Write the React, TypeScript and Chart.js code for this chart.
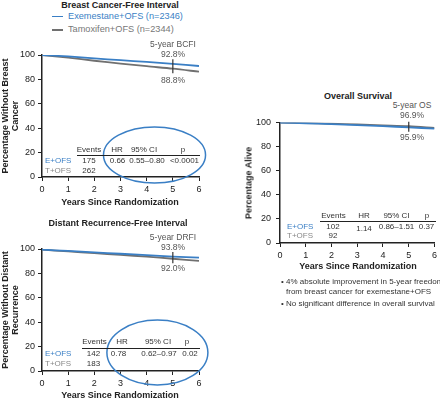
import React, { useEffect, useRef } from "react";
import { Chart, registerables } from "chart.js";
Chart.register(...registerables);

// ---------- data ----------
const years = [0, 1, 2, 3, 4, 5, 6];
const xTicks = [0, 1, 2, 3, 4, 5, 6];
const yTicks = [0, 20, 40, 60, 80, 100];
const groups = ["E+OFS", "T+OFS"];
const legendLabels = ["Exemestane+OFS (n=2346)", "Tamoxifen+OFS (n=2344)"];
const tableHeader = ["Events", "HR", "95% CI", "p"];

const bcfiExe = [100, 98.8, 97.2, 95.8, 94.3, 92.8, 91.0];
const bcfiTam = [100, 97.8, 95.3, 93.0, 90.8, 88.8, 86.3];
const bcfiFive = [92.8, 88.8];
const bcfiEvents = [175, 262];
const bcfiStats = ["0.66", "0.55–0.80", "<0.0001"];

const drfiExe = [99.5, 98.4, 97.2, 96.1, 95.0, 93.8, 92.9];
const drfiTam = [99.5, 98.0, 96.6, 95.2, 93.7, 92.0, 90.2];
const drfiFive = [93.8, 92.0];
const drfiEvents = [142, 183];
const drfiStats = ["0.78", "0.62–0.97", "0.02"];

const osExe = [99.8, 99.3, 98.6, 97.8, 96.9, 95.9, 94.8];
const osTam = [99.8, 99.4, 98.9, 98.3, 97.6, 96.9, 95.4];
const osFive = [96.9, 95.9];
const osEvents = [102, 92];
const osStats = ["1.14", "0.86–1.51", "0.37"];

const bullets = [
  "4% absolute improvement in 5-year freedom",
  "from breast cancer for exemestane+OFS",
  "No significant difference in overall survival",
];

// ---------- styles ----------
const FONT = "'Liberation Sans', Arial, Helvetica, sans-serif";
const BLUE = "#3a7fc5";
const GRAY = "#707070";
const AXIS = "#222";
const TXT = "#333";
const NOTE = "#555";

type Ell = { cx: number; cy: number; rx: number; ry: number } | null;

function annotPlugin(fiveVals: number[], ell: Ell) {
  return {
    id: "annot",
    afterDatasetsDraw(chart: any) {
      const { ctx, scales } = chart;
      const x = scales.x, y = scales.y;
      ctx.save();
      const px = x.getPixelForValue(5);
      const top = y.getPixelForValue(Math.max(...fiveVals)) - 4.5;
      const bot = y.getPixelForValue(Math.min(...fiveVals)) + 4.5;
      ctx.strokeStyle = "#333";
      ctx.lineWidth = 1.2;
      ctx.beginPath();
      ctx.moveTo(px, top);
      ctx.lineTo(px, bot);
      ctx.stroke();
      if (ell) {
        const cx = x.getPixelForValue(ell.cx);
        const cy = y.getPixelForValue(ell.cy);
        const rx = Math.abs(x.getPixelForValue(ell.cx + ell.rx) - cx);
        const ry = Math.abs(y.getPixelForValue(ell.cy + ell.ry) - cy);
        ctx.beginPath();
        ctx.ellipse(cx, cy, rx, ry, 0, 0, Math.PI * 2);
        ctx.strokeStyle = BLUE;
        ctx.lineWidth = 1.5;
        ctx.stroke();
      }
      ctx.restore();
    },
  };
}

type PanelProps = {
  left: number; top: number; width: number; height: number;
  exe: number[]; tam: number[]; five: number[]; ell: Ell;
  yWidth: number; xHeight: number; padTop: number; padRight: number; yPad: number;
};

function KMChart(p: PanelProps) {
  const ref = useRef<HTMLCanvasElement | null>(null);
  useEffect(() => {
    if (!ref.current) return;
    const tickFont = { family: FONT, size: 9 };
    const chart = new Chart(ref.current, {
      type: "line",
      data: {
        datasets: [
          { label: groups[0], data: years.map((t, i) => ({ x: t, y: p.exe[i] })), borderColor: BLUE, borderWidth: 1.8, pointRadius: 0, tension: 0.3 },
          { label: groups[1], data: years.map((t, i) => ({ x: t, y: p.tam[i] })), borderColor: GRAY, borderWidth: 1.8, pointRadius: 0, tension: 0.3 },
        ],
      },
      options: {
        animation: false,
        responsive: false,
        maintainAspectRatio: false,
        layout: { padding: { top: p.padTop, right: p.padRight, left: 0, bottom: 0 } },
        plugins: { legend: { display: false }, tooltip: { enabled: false } },
        scales: {
          x: {
            type: "linear", min: 0, max: 6,
            afterBuildTicks: (s: any) => { s.ticks = xTicks.map((v) => ({ value: v })); },
            afterFit: (s: any) => { s.height = p.xHeight; },
            ticks: { font: tickFont, color: AXIS, padding: 3, maxRotation: 0 },
            grid: { display: true, drawOnChartArea: false, drawTicks: true, tickLength: 4, color: AXIS, lineWidth: 1 },
            border: { display: true, color: AXIS, width: 1.5 },
          },
          y: {
            type: "linear", min: 0, max: 100,
            afterBuildTicks: (s: any) => { s.ticks = yTicks.map((v) => ({ value: v })); },
            afterFit: (s: any) => { s.width = p.yWidth; },
            ticks: { font: tickFont, color: AXIS, padding: p.yPad },
            grid: { display: true, drawOnChartArea: false, drawTicks: true, tickLength: 4, color: AXIS, lineWidth: 1 },
            border: { display: true, color: AXIS, width: 1.5 },
          },
        },
      },
      plugins: [annotPlugin(p.five, p.ell)],
    } as any);
    return () => chart.destroy();
  }, []);
  return (
    <canvas ref={ref} width={p.width} height={p.height}
      style={{ position: "absolute", left: p.left, top: p.top, width: p.width, height: p.height }} />
  );
}

type TP = { x: number; y: number; children: any; size?: number; bold?: boolean; color?: string; align?: "left" | "center" | "right"; rotate?: boolean };
function T({ x, y, children, size = 8, bold = false, color = TXT, align = "center", rotate = false }: TP) {
  const tx = align === "center" ? "-50%" : align === "right" ? "-100%" : "0";
  return (
    <div style={{
      position: "absolute", left: x, top: y, whiteSpace: "nowrap", lineHeight: 1,
      fontFamily: FONT, fontSize: size, fontWeight: bold ? "bold" : "normal", color,
      transform: `translate(${tx}, -50%)${rotate ? " rotate(-90deg)" : ""}`,
    }}>{children}</div>
  );
}

function HLine({ x1, x2, y, color = AXIS, w = 1 }: { x1: number; x2: number; y: number; color?: string; w?: number }) {
  return <div style={{ position: "absolute", left: x1, top: y - w / 2, width: x2 - x1, height: w, background: color }} />;
}

export default function App() {
  useEffect(() => { document.body.style.margin = "0"; }, []);
  return (
    <div style={{ position: "absolute", left: 0, top: 0, width: 440, height: 398, background: "#fff", overflow: "hidden", fontFamily: FONT }}>
      {/* ---------- Panel 1: BCFI ---------- */}
      <T x={120} y={4.5} size={9} bold color="#222">Breast Cancer-Free Interval</T>
      <HLine x1={52} x2={63} y={16.5} color={BLUE} w={1.6} />
      <T x={68} y={16.5} size={9.2} align="left" color={BLUE}>{legendLabels[0]}</T>
      <HLine x1={52} x2={63} y={30} color={GRAY} w={1.6} />
      <T x={68} y={30} size={9.2} align="left" color="#777">{legendLabels[1]}</T>
      <KMChart left={0} top={45} width={212} height={165} exe={bcfiExe} tam={bcfiTam} five={bcfiFive}
        ell={{ cx: 4.3, cy: 18, rx: 1.95, ry: 23 }} yWidth={42} xHeight={33} padTop={10} padRight={13} yPad={3} />
      <T x={173} y={43.5} size={8.5} color={NOTE}>5-year BCFI</T>
      <T x={173} y={53.5} size={8.5} color={NOTE}>{bcfiFive[0].toFixed(1)}%</T>
      <T x={173} y={80} size={8.5} color={NOTE}>{bcfiFive[1].toFixed(1)}%</T>
      <T x={4.5} y={116} size={9} bold rotate color="#222">Percentage Without Breast</T>
      <T x={14.5} y={116} size={9} bold rotate color="#222">Cancer</T>
      <T x={120} y={202} size={9} bold color="#222">Years Since Randomization</T>
      {/* table */}
      <T x={89} y={150}>{tableHeader[0]}</T>
      <T x={117} y={150}>{tableHeader[1]}</T>
      <T x={144} y={150}>{tableHeader[2]}</T>
      <T x={183} y={150}>{tableHeader[3]}</T>
      <HLine x1={77} x2={200} y={155} />
      <T x={45} y={161} align="left" color={BLUE}>{groups[0]}</T>
      <T x={89} y={161}>{bcfiEvents[0]}</T>
      <T x={117.5} y={161}>{bcfiStats[0]}</T>
      <T x={147} y={161}>{bcfiStats[1]}</T>
      <T x={184.5} y={161}>{bcfiStats[2]}</T>
      <T x={45} y={171} align="left" color="#888">{groups[1]}</T>
      <T x={89} y={171}>{bcfiEvents[1]}</T>

      {/* ---------- Panel 2: DRFI ---------- */}
      <T x={118} y={223} size={9} bold color="#222">Distant Recurrence-Free Interval</T>
      <KMChart left={0} top={239} width={212} height={159} exe={drfiExe} tam={drfiTam} five={drfiFive}
        ell={{ cx: 4.41, cy: 15.2, rx: 1.93, ry: 26.6 }} yWidth={42} xHeight={27} padTop={10} padRight={13} yPad={3} />
      <T x={173} y={237} size={8.5} color={NOTE}>5-year DRFI</T>
      <T x={173} y={247} size={8.5} color={NOTE}>{drfiFive[0].toFixed(1)}%</T>
      <T x={173} y={268} size={8.5} color={NOTE}>{drfiFive[1].toFixed(1)}%</T>
      <T x={4.5} y={310} size={9} bold rotate color="#222">Percentage Without Distant</T>
      <T x={14.5} y={310} size={9} bold rotate color="#222">Recurrence</T>
      <T x={120} y={395} size={9} bold color="#222">Years Since Randomization</T>
      <T x={94.5} y={342}>{tableHeader[0]}</T>
      <T x={122} y={342}>{tableHeader[1]}</T>
      <T x={158} y={342}>{tableHeader[2]}</T>
      <T x={187} y={342}>{tableHeader[3]}</T>
      <HLine x1={82} x2={200} y={348} />
      <T x={45} y={354} align="left" color={BLUE}>{groups[0]}</T>
      <T x={93.5} y={354}>{drfiEvents[0]}</T>
      <T x={118.5} y={354}>{drfiStats[0]}</T>
      <T x={159} y={354}>{drfiStats[1]}</T>
      <T x={190} y={354}>{drfiStats[2]}</T>
      <T x={45} y={364} align="left" color="#888">{groups[1]}</T>
      <T x={93.5} y={364}>{drfiEvents[1]}</T>

      {/* ---------- Panel 3: OS ---------- */}
      <T x={358} y={96} size={9} bold color="#222">Overall Survival</T>
      <KMChart left={238} top={112} width={202} height={150} exe={osExe} tam={osTam} five={osFive}
        ell={null} yWidth={42} xHeight={19} padTop={10} padRight={3} yPad={5} />
      <T x={412} y={105} size={8.5} color={NOTE}>5-year OS</T>
      <T x={412} y={115} size={8.5} color={NOTE}>{osFive[0].toFixed(1)}%</T>
      <T x={412} y={137} size={8.5} color={NOTE}>{osFive[1].toFixed(1)}%</T>
      <T x={249} y={183} size={9} bold rotate color="#222">Percentage Alive</T>
      <T x={358} y={266} size={9} bold color="#222">Years Since Randomization</T>
      <T x={333.5} y={216}>{tableHeader[0]}</T>
      <T x={364} y={216}>{tableHeader[1]}</T>
      <T x={396.5} y={216}>{tableHeader[2]}</T>
      <T x={427} y={216}>{tableHeader[3]}</T>
      <HLine x1={320} x2={436} y={221} />
      <T x={287} y={227} align="left" color={BLUE}>{groups[0]}</T>
      <T x={333} y={227}>{osEvents[0]}</T>
      <T x={364} y={228.5}>{osStats[0]}</T>
      <T x={396.5} y={227}>{osStats[1]}</T>
      <T x={426.5} y={227}>{osStats[2]}</T>
      <T x={287} y={236} align="left" color="#888">{groups[1]}</T>
      <T x={333} y={236}>{osEvents[1]}</T>

      {/* bullets */}
      <T x={281} y={282} align="left" size={8}>•</T>
      <T x={286} y={282} align="left" size={8}>{bullets[0]}</T>
      <T x={286} y={292} align="left" size={8}>{bullets[1]}</T>
      <T x={281} y={304} align="left" size={8}>•</T>
      <T x={286} y={304} align="left" size={8}>{bullets[2]}</T>
    </div>
  );
}
